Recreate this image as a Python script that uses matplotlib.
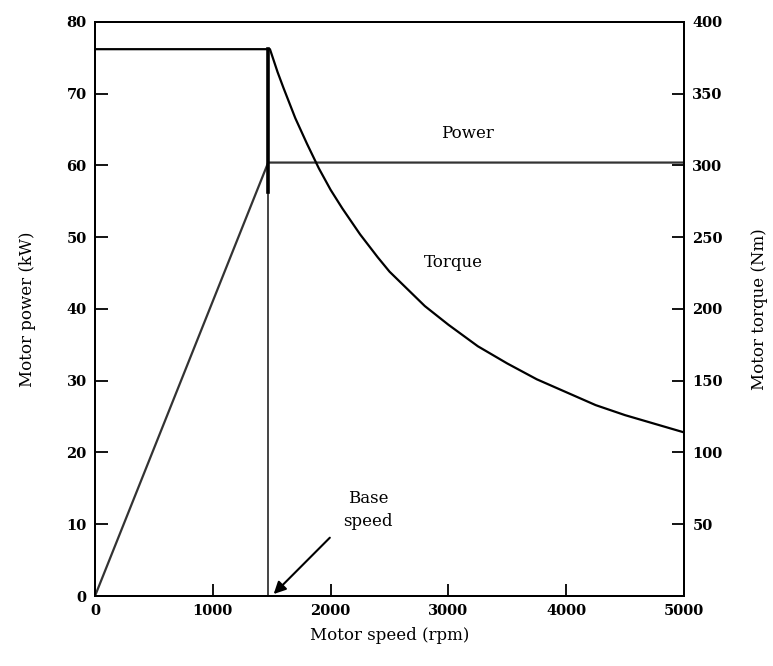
"""
Motor power and torque versus motor speed (constant torque / constant power regions).
"""

import matplotlib
matplotlib.use("Agg")
import matplotlib.pyplot as plt

OUTPUT_PATH = "out.png"

# Base speed of the motor (rpm)
BASE_SPEED = 1470

# Power curve (kW)
power_speed = [0, 1470, 5000]
power_kw = [0, 60.4, 60.4]

# Torque curve (Nm)
torque_speed = [0, 1485, 1550, 1600, 1700, 1800, 1900, 2000, 2100, 2250,
                2400, 2500, 2650, 2800, 3000, 3250, 3500, 3750, 4000, 4250,
                4500, 4750, 5000]
torque_nm = [381, 381, 365, 354, 333, 315, 298, 283, 270, 252,
             236, 226, 214, 202, 189, 174, 162, 151, 142, 133,
             126, 120, 114]

# Vertical marker at base speed (kW on left axis)
base_line_kw = [0, 76.2]
base_thick_kw = [56.3, 76.2]

left_ticks = [0, 10, 20, 30, 40, 50, 60, 70, 80]
right_ticks = [50, 100, 150, 200, 250, 300, 350, 400]
x_ticks = [0, 1000, 2000, 3000, 4000, 5000]

FONT = "DejaVu Serif"


def main() -> None:
    plt.rcParams["font.family"] = FONT

    fig = plt.figure(figsize=(7.73, 6.66), dpi=100)
    ax = fig.add_axes([0.1229, 0.1051, 0.762, 0.862])
    ax2 = ax.twinx()

    ax.plot(power_speed, power_kw, color="#333333", lw=1.6)
    ax.plot([BASE_SPEED, BASE_SPEED], base_line_kw, color="#444444", lw=1.4)
    ax.plot([BASE_SPEED, BASE_SPEED], base_thick_kw, color="black", lw=2.6)
    ax2.plot(torque_speed, torque_nm, color="black", lw=1.6)

    ax.set_xlim(0, 5000)
    ax.set_ylim(0, 80)
    ax2.set_ylim(0, 400)

    ax.set_xticks(x_ticks)
    ax.set_yticks(left_ticks)
    ax2.set_yticks(right_ticks)

    for a in (ax, ax2):
        a.tick_params(direction="in", length=9, width=1.3, labelsize=10.5,
                      pad=6)
        for s in a.spines.values():
            s.set_linewidth(1.4)
    for lab in ax.get_xticklabels() + ax.get_yticklabels() + ax2.get_yticklabels():
        lab.set_fontweight("bold")

    ax.set_xlabel("Motor speed (rpm)", fontsize=12, labelpad=6)
    ax.set_ylabel("Motor power (kW)", fontsize=12, labelpad=22)
    ax2.set_ylabel("Motor torque (Nm)", fontsize=12, labelpad=20)

    ax.text(3160, 64.5, "Power", ha="center", va="center", fontsize=12)
    ax.text(3040, 46.5, "Torque", ha="center", va="center", fontsize=12)
    ax.text(2320, 12.0, "Base\nspeed", ha="center", va="center", fontsize=12,
            linespacing=1.5)
    ax.annotate("", xy=(1500, 0), xytext=(2010, 8.4),
                arrowprops=dict(arrowstyle="-|>", color="black", lw=1.5,
                                mutation_scale=18))

    fig.savefig(OUTPUT_PATH, dpi=100)
    plt.close(fig)


if __name__ == "__main__":
    main()
